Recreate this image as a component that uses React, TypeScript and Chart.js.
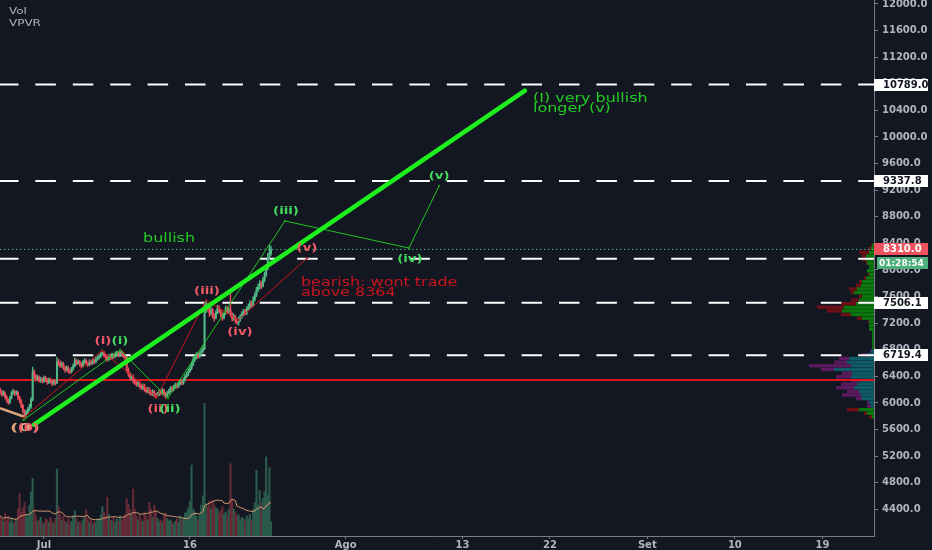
import React, { useEffect, useRef } from 'react';
import { Chart, registerables } from 'chart.js';

Chart.register(...registerables);

// ---------- data ----------
// time axis: days since 1 Jul (4h candles starting 26 Jun 12:00)
const START_DAY = -4.5;
const BAR_DAYS = 1 / 6;
const X_MIN = -4.52;
const X_MAX = 85.3;

const OPEN_FIRST = 6200;
const CLOSE = [
  6165, 6130, 6150, 6090, 6040, 6010, 6080, 6150, 6170, 6140,
  6160, 6080, 6030, 5960, 5880, 5820, 5860, 5900, 5940, 6050,
  6470, 6400, 6370, 6390, 6340, 6360, 6330, 6380, 6350, 6310,
  6350, 6330, 6290, 6320, 6300, 6620, 6600, 6560, 6590, 6530,
  6500, 6530, 6480, 6470, 6510, 6560, 6640, 6600, 6620, 6580,
  6560, 6610, 6640, 6600, 6580, 6620, 6600, 6640, 6620, 6660,
  6680, 6700, 6740, 6760, 6720, 6690, 6660, 6700, 6680, 6720,
  6700, 6740, 6750, 6720, 6770, 6740, 6710, 6680, 6500, 6440,
  6380, 6400, 6330, 6310, 6280, 6300, 6250, 6230, 6260, 6200,
  6180, 6210, 6160, 6140, 6170, 6120, 6100, 6130, 6170, 6150,
  6190, 6130, 6110, 6150, 6180, 6220, 6200, 6240, 6270, 6250,
  6290, 6320, 6300, 6350, 6400, 6430, 6480, 6520, 6580, 6650,
  6690, 6720, 6700, 6740, 6780, 6820, 7400, 7470, 7420, 7350,
  7400, 7310, 7280, 7360, 7430, 7390, 7330, 7280, 7350, 7420,
  7380, 7400, 7330, 7270, 7300, 7240, 7210, 7260, 7300, 7340,
  7380, 7350, 7420, 7450, 7500, 7470, 7560, 7620, 7700, 7740,
  7800, 7760, 7850, 7930, 8030, 8180, 8250, 8310,
];
const HIGH = [
  6225, 6190, 6185, 6170, 6110, 6060, 6100, 6180, 6210, 6190,
  6190, 6175, 6100, 6050, 5980, 5900, 5890, 5930, 5980, 6080,
  6540, 6500, 6430, 6420, 6410, 6390, 6380, 6410, 6400, 6370,
  6380, 6370, 6350, 6350, 6340, 6690, 6660, 6630, 6620, 6610,
  6550, 6560, 6550, 6510, 6540, 6590, 6680, 6660, 6650, 6640,
  6610, 6640, 6670, 6660, 6620, 6650, 6640, 6670, 6660, 6690,
  6710, 6730, 6770, 6800, 6780, 6740, 6710, 6730, 6720, 6750,
  6740, 6770, 6780, 6770, 6810, 6790, 6760, 6730, 6700, 6530,
  6460, 6430, 6420, 6360, 6340, 6330, 6320, 6280, 6290, 6280,
  6230, 6240, 6230, 6190, 6200, 6190, 6150, 6160, 6200, 6200,
  6220, 6210, 6160, 6180, 6210, 6250, 6250, 6270, 6300, 6300,
  6320, 6350, 6350, 6380, 6430, 6460, 6510, 6560, 6620, 6690,
  6730, 6760, 6750, 6770, 6810, 6860, 7520, 7530, 7500, 7450,
  7440, 7420, 7340, 7390, 7470, 7460, 7410, 7350, 7380, 7460,
  7450, 7440, 7650, 7360, 7340, 7320, 7270, 7290, 7330, 7370,
  7410, 7410, 7450, 7490, 7540, 7530, 7600, 7660, 7740, 7790,
  7840, 7830, 7890, 7970, 8080, 8250, 8380, 8360,
];
const LOW = [
  6130, 6100, 6110, 6060, 6010, 5980, 5990, 6060, 6130, 6110,
  6120, 6050, 6000, 5930, 5850, 5770, 5790, 5840, 5880, 5920,
  6030, 6370, 6330, 6340, 6310, 6310, 6300, 6310, 6320, 6280,
  6290, 6300, 6260, 6270, 6270, 6290, 6560, 6530, 6540, 6500,
  6460, 6480, 6450, 6440, 6450, 6490, 6540, 6570, 6580, 6550,
  6530, 6540, 6590, 6570, 6550, 6560, 6570, 6580, 6590, 6600,
  6640, 6660, 6680, 6720, 6690, 6650, 6620, 6640, 6650, 6660,
  6670, 6680, 6710, 6690, 6700, 6710, 6680, 6640, 6460, 6400,
  6340, 6350, 6300, 6280, 6250, 6250, 6220, 6200, 6200, 6170,
  6150, 6150, 6130, 6110, 6110, 6090, 6070, 6080, 6110, 6120,
  6130, 6100, 6070, 6090, 6130, 6160, 6170, 6180, 6220, 6220,
  6230, 6270, 6270, 6280, 6330, 6380, 6410, 6460, 6500, 6560,
  6620, 6660, 6670, 6680, 6720, 6760, 6800, 7360, 7380, 7300,
  7320, 7270, 7230, 7260, 7340, 7360, 7300, 7240, 7260, 7330,
  7350, 7350, 7300, 7230, 7240, 7200, 7180, 7170, 7230, 7270,
  7310, 7320, 7330, 7390, 7420, 7430, 7450, 7530, 7600, 7670,
  7710, 7720, 7740, 7820, 7900, 8000, 8150, 8220,
];
const VOLUME = [
  150, 130, 110, 170, 120, 150, 100, 130, 90, 110,
  120, 200, 320, 180, 210, 250, 160, 140, 230, 330,
  430, 200, 150, 110, 120, 140, 100, 90, 130, 120,
  100, 140, 110, 90, 130, 500, 220, 160, 120, 150,
  110, 100, 130, 90, 110, 150, 190, 130, 100, 110,
  90, 120, 140, 200, 130, 100, 120, 90, 110, 100,
  130, 120, 160, 220, 180, 150, 290, 160, 120, 110,
  140, 100, 130, 110, 150, 120, 140, 160, 280, 240,
  200, 160, 350, 200, 150, 120, 160, 130, 110, 180,
  150, 120, 250, 200, 140, 230, 180, 130, 110, 120,
  100, 160, 170, 130, 110, 120, 100, 90, 110, 130,
  100, 150, 120, 140, 170, 180, 210, 260, 530, 200,
  180, 150, 120, 160, 230, 300, 990, 240, 220, 260,
  200, 270, 230, 210, 200, 170, 190, 220, 160, 180,
  150, 200, 540, 280, 200, 180, 150, 160, 120, 140,
  130, 110, 150, 130, 160, 120, 200, 250, 490, 230,
  340, 250, 280, 330, 590, 300, 510, 105,
];
const VOL_MA_LEN = 20;

const X_TICK_DAYS = [0, 15, 31, 43, 52, 62, 71, 80];
const X_TICK_LABELS = ['Jul', '16', 'Ago', '13', '22', 'Set', '10', '19'];
const Y_TICKS = [
  4400, 4800, 5200, 5600, 6000, 6400, 6800, 7200, 7600, 8000,
  8400, 8800, 9200, 9600, 10000, 10400, 10800, 11200, 11600, 12000,
];
const Y_MIN = 4000;
const Y_MAX = 12060;

const LEVELS = [10789.0, 9337.8, 8170.0, 7506.1, 6719.4];
const LEVEL_TAGS = [10789.0, 9337.8, 7506.1, 6719.4];
const SUPPORT = 6345;
const LAST_PRICE = 8310.0;
const COUNTDOWN = '01:28:54';

// drawings, [day, price]
const TREND = [[-1.03, 5676], [49.43, 10696]];
const RED_WAVE = [[-2.1, 5775], [5.96, 6785], [11.61, 6090], [16.65, 7548], [19.94, 7248], [27.03, 8176]];
const GREEN_WAVE = [[-2.1, 5745], [7.81, 6796], [12.74, 6074], [24.77, 8737], [37.51, 8330], [40.6, 9263]];
const TAN_LINE = [[-4.52, 5924], [-1.95, 5789]];

// volume profile (visible range), rows from VP_LOW upward
const VP_LOW = 5760;
const VP_STEP = 55;
const VP_UP = [2, 7, 15, 3, 5, 12, 13, 15, 20, 17, 13, 23, 22, 40, 23, 27, 25, 7, 3, 2, 2, 2, 2, 2, 5, 5, 5, 12, 23, 32, 30, 18, 15, 12, 20, 17, 13, 12, 8, 5, 7, 5, 7, 8, 8, 5, 3, 2];
const VP_DOWN = [3, 3, 12, 4, 2, 6, 19, 12, 18, 16, 9, 15, 10, 13, 42, 13, 10, 6, 1, 0, 0, 0, 0, 0, 0, 0, 1, 5, 10, 15, 27, 15, 8, 3, 3, 8, 5, 3, 2, 1, 0, 0, 1, 4, 4, 10, 3, 1];
const VP_VA = [3, 18];
const VP_AXIS_MAX = 874;

// text annotations [text, day, price]
const RED_LABELS: [string, number, number][] = [
  ['(0)', -1.6, 5623], ['(i)', 6.06, 6932], ['(ii)', 11.72, 5909], ['(iii)', 16.75, 7684], ['(iv)', 20.14, 7067], ['(v)', 27.03, 8330],
];
const GREEN_LABELS: [string, number, number][] = [
  ['(i)', 7.81, 6932], ['(ii)', 12.95, 5909], ['(iii)', 24.87, 8887], ['(iv)', 37.6, 8165], ['(v)', 40.6, 9413],
];
const NOTES_GREEN: [string, number, number][] = [
  ['(I) very bullish', 50.26, 10571], ['longer (v)', 50.26, 10421],
];
const NOTE_BULLISH: [string, number, number] = ['bullish', 12.85, 8466];
const NOTES_RED: [string, number, number][] = [
  ['bearish: wont trade', 26.41, 7804], ['above 8364', 26.41, 7653],
];

// ---------- styles ----------
const BG = '#131722';
const UP = '#53b987';
const DOWN = '#eb4d5c';
const VOL_UP = '#2a5a4b';
const VOL_DOWN = '#642a35';
const AXIS = '#787b86';
const TICK_TEXT = '#b2b5be';
const FONT = 'DejaVu Sans';
const SX = 1.33;

function drawText(ctx: CanvasRenderingContext2D, t: string, x: number, y: number, font: string, color: string, align: CanvasTextAlign, sx = SX) {
  ctx.save();
  ctx.translate(x, y);
  ctx.scale(sx, 1);
  ctx.font = font;
  ctx.fillStyle = color;
  ctx.textAlign = align;
  ctx.textBaseline = 'middle';
  ctx.fillText(t, 0, 0);
  ctx.restore();
}

const bgPlugin = {
  id: 'bg',
  beforeDraw(chart: any) {
    const { ctx, width, height } = chart;
    ctx.save();
    ctx.fillStyle = BG;
    ctx.fillRect(0, 0, width, height);
    ctx.restore();
  },
};

const vpvrPlugin = {
  id: 'vpvr',
  beforeDatasetsDraw(chart: any) {
    const { ctx, chartArea } = chart;
    const y = chart.scales.y;
    const right = chartArea.right;
    const k = chartArea.width / VP_AXIS_MAX;
    ctx.save();
    for (let i = 0; i < VP_UP.length; i++) {
      const top = y.getPixelForValue(VP_LOW + (i + 1) * VP_STEP);
      const bot = y.getPixelForValue(VP_LOW + i * VP_STEP);
      const h = bot - top - 0.3;
      const va = i >= VP_VA[0] && i <= VP_VA[1];
      const xu = right - VP_UP[i] * k;
      const xd = xu - VP_DOWN[i] * k;
      ctx.fillStyle = va ? '#0d5c67' : '#0a780d';
      ctx.fillRect(xu, top, right - xu, h);
      ctx.fillStyle = va ? '#5b1a60' : '#6c1015';
      ctx.fillRect(xd, top, xu - xd, h);
    }
    ctx.restore();
  },
};

const textPlugin = {
  id: 'texts',
  afterDatasetsDraw(chart: any) {
    const { ctx } = chart;
    const x = chart.scales.x;
    const y = chart.scales.y;
    const P = (d: number) => x.getPixelForValue(d);
    const Q = (p: number) => y.getPixelForValue(p);
    ctx.save();
    drawText(ctx, '(0)', P(-1.95), Q(5623), `bold 11px "${FONT}"`, '#d9a47c', 'center', 1.7);
    RED_LABELS.forEach(([t, d, p]) => drawText(ctx, t, P(d), Q(p), `bold 10px "${FONT}"`, '#f05a67', 'center'));
    GREEN_LABELS.forEach(([t, d, p]) => drawText(ctx, t, P(d), Q(p), `bold 10px "${FONT}"`, '#45d95c', 'center'));
    NOTES_GREEN.forEach(([t, d, p]) => drawText(ctx, t, P(d), Q(p), `12px "${FONT}"`, '#22cc22', 'left'));
    drawText(ctx, NOTE_BULLISH[0], P(NOTE_BULLISH[1]), Q(NOTE_BULLISH[2]), `12px "${FONT}"`, '#22cc22', 'center');
    NOTES_RED.forEach(([t, d, p]) => drawText(ctx, t, P(d), Q(p), `12px "${FONT}"`, '#c8141e', 'left'));
    // pane legend
    drawText(ctx, 'Vol', 9, 12, `9px "${FONT}"`, TICK_TEXT, 'left');
    drawText(ctx, 'VPVR', 9, 24, `9px "${FONT}"`, TICK_TEXT, 'left');
    ctx.restore();
  },
};

const tagPlugin = {
  id: 'tags',
  afterDraw(chart: any) {
    const { ctx, chartArea } = chart;
    const y = chart.scales.y;
    const left = chartArea.right;
    const font = `bold 10px "${FONT}"`;
    const tag = (v: number, txt: string, bg: string, fg: string, x0: number, dy: number, tx: number, w: number, f = font) => {
      const cy = y.getPixelForValue(v) + dy;
      ctx.fillStyle = bg;
      ctx.fillRect(x0, Math.round(cy - 6), w, 12);
      ctx.font = f;
      ctx.fillStyle = fg;
      ctx.textAlign = 'left';
      ctx.textBaseline = 'middle';
      ctx.fillText(txt, tx, cy + 0.5);
    };
    ctx.save();
    LEVEL_TAGS.forEach((v) => tag(v, v.toFixed(1), '#ffffff', BG, left, 0, left + 9, 54));
    tag(LAST_PRICE, LAST_PRICE.toFixed(1), '#ef5360', '#ffffff', left, 0, left + 9, 54);
    tag(LAST_PRICE, COUNTDOWN, '#4caf7c', '#ffffff', left + 3, 14, left + 5, 51, `bold 9px "${FONT}"`);
    ctx.restore();
  },
};

function pts(a: number[][]) {
  return a.map(([d, p]) => ({ x: d, y: p }));
}
function hline(v: number) {
  return [{ x: X_MIN, y: v }, { x: X_MAX, y: v }];
}

export default function App() {
  const ref = useRef<HTMLCanvasElement | null>(null);

  useEffect(() => {
    if (!ref.current) return;
    const opens = CLOSE.map((_, i) => (i === 0 ? OPEN_FIRST : CLOSE[i - 1]));
    const xs = CLOSE.map((_, i) => START_DAY + i * BAR_DAYS);
    const upFlags = CLOSE.map((c, i) => c >= opens[i]);
    const bodies = CLOSE.map((c, i) => ({ x: xs[i], y: [opens[i], c] }));
    const wicks = CLOSE.map((_, i) => ({ x: xs[i], y: [LOW[i], HIGH[i]] }));
    const vols = VOLUME.map((v, i) => ({ x: xs[i], y: v }));
    const volMa = VOLUME.map((_, i) => {
      const s = Math.max(0, i - VOL_MA_LEN + 1);
      const w = VOLUME.slice(s, i + 1);
      return { x: xs[i], y: w.reduce((a, b) => a + b, 0) / w.length };
    });
    const candleColors = upFlags.map((u) => (u ? UP : DOWN));
    const volColors = upFlags.map((u) => (u ? VOL_UP : VOL_DOWN));

    const lineBase = { type: 'line', pointRadius: 0, pointHoverRadius: 0, xAxisID: 'x', yAxisID: 'y', fill: false, tension: 0 };

    const chart = new Chart(ref.current, {
      type: 'bar',
      data: {
        datasets: [
          { ...lineBase, data: pts(TREND), borderColor: '#1ef01e', borderWidth: 4.5, borderCapStyle: 'round', order: 1 } as any,
          { ...lineBase, data: pts(GREEN_WAVE), borderColor: '#22c422', borderWidth: 1, pointRadius: 1.5, pointStyle: 'rect', pointBackgroundColor: '#1a9a1a', pointBorderWidth: 0, order: 2 } as any,
          { ...lineBase, data: pts(RED_WAVE), borderColor: '#c8141e', borderWidth: 1, pointRadius: 1.5, pointStyle: 'rect', pointBackgroundColor: '#a01018', pointBorderWidth: 0, order: 3 } as any,
          { ...lineBase, data: pts(TAN_LINE), borderColor: '#d9a47c', borderWidth: 2.5, order: 4 } as any,
          { type: 'bar', data: bodies, backgroundColor: candleColors, barThickness: 1.3, xAxisID: 'x', yAxisID: 'y', order: 5 } as any,
          { type: 'bar', data: wicks, backgroundColor: candleColors, barThickness: 0.7, xAxisID: 'x', yAxisID: 'y', order: 6 } as any,
          { ...lineBase, data: hline(LAST_PRICE), borderColor: '#4caf7c', borderWidth: 1, borderDash: [1.5, 2.5], order: 7 } as any,
          { ...lineBase, data: hline(SUPPORT), borderColor: '#e0161e', borderWidth: 2, order: 7 } as any,
          ...LEVELS.map((v) => ({ ...lineBase, data: hline(v), borderColor: '#ffffff', borderWidth: 2, borderDash: [20.5, 16.9], borderDashOffset: 2, order: 8 } as any)),
          { ...lineBase, data: volMa, yAxisID: 'yv', borderColor: '#d89a70', borderWidth: 1, order: 9 } as any,
          { type: 'bar', data: vols, backgroundColor: volColors, barThickness: 1.5, xAxisID: 'x', yAxisID: 'yv', order: 10 } as any,
        ],
      },
      options: {
        responsive: false,
        animation: false,
        events: [],
        layout: { padding: 0, autoPadding: false },
        datasets: { bar: { grouped: false } } as any,
        plugins: { legend: { display: false }, tooltip: { enabled: false } },
        scales: {
          x: {
            type: 'linear',
            position: 'bottom',
            min: X_MIN,
            max: X_MAX,
            offset: false,
            afterBuildTicks: (s: any) => { s.ticks = X_TICK_DAYS.map((v) => ({ value: v })); },
            afterFit: (s: any) => { s.height = 14; s.paddingLeft = 0; s.paddingRight = 0; },
            ticks: {
              autoSkip: false,
              maxRotation: 0,
              padding: 0,
              color: TICK_TEXT,
              font: { family: FONT, size: 10, weight: 'bold' },
              callback: (v: any) => { const k = X_TICK_DAYS.indexOf(Number(v)); return k >= 0 ? X_TICK_LABELS[k] : ''; },
            },
            grid: { display: true, drawOnChartArea: false, drawTicks: true, tickLength: 3, color: AXIS, offset: false },
            border: { display: true, color: AXIS, width: 1 },
          },
          y: {
            type: 'linear',
            position: 'right',
            min: Y_MIN,
            max: Y_MAX,
            afterBuildTicks: (s: any) => { s.ticks = Y_TICKS.map((v) => ({ value: v })); },
            afterFit: (s: any) => { s.width = 58; s.paddingTop = 0; s.paddingBottom = 0; },
            ticks: {
              autoSkip: false,
              padding: 4,
              color: TICK_TEXT,
              font: { family: FONT, size: 10, weight: 'bold' },
              callback: (v: any) => Number(v).toFixed(1),
            },
            grid: { display: true, drawOnChartArea: false, drawTicks: true, tickLength: 4, color: AXIS },
            border: { display: true, color: AXIS, width: 1 },
          },
          yv: { type: 'linear', display: false, min: 0, max: 4000, position: 'left' },
        },
      } as any,
      plugins: [bgPlugin, vpvrPlugin, textPlugin, tagPlugin],
    });
    return () => chart.destroy();
  }, []);

  return (
    <div style={{ position: 'fixed', left: 0, top: 0, width: 932, height: 550, background: BG }}>
      <canvas ref={ref} width={932} height={550} style={{ display: 'block' }} />
    </div>
  );
}
